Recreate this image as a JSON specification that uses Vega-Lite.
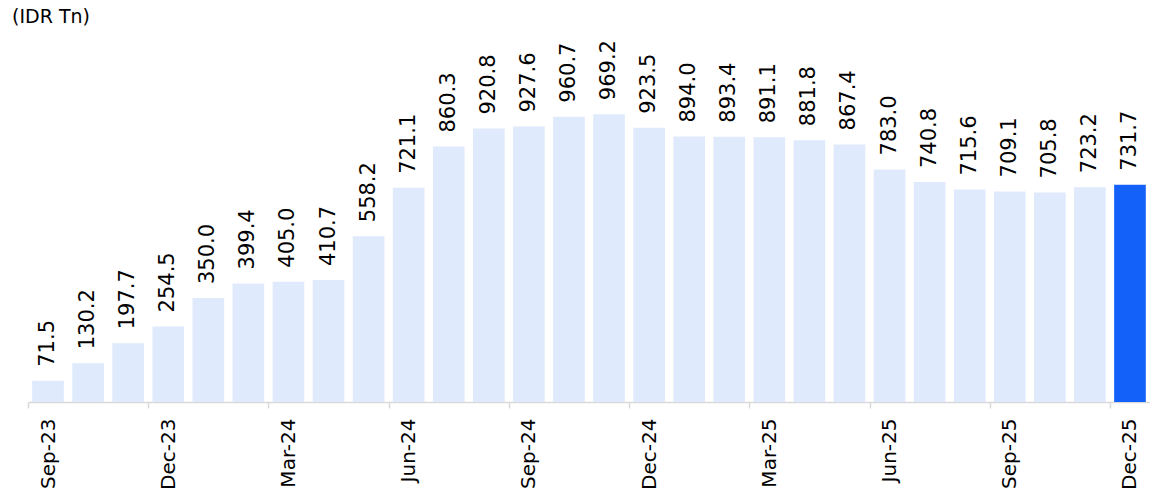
{
  "$schema": "https://vega.github.io/schema/vega-lite/v6.json",
  "width": 1122,
  "height": 362,
  "autosize": {"type": "none"},
  "padding": {"left": 28, "top": 40, "right": 0, "bottom": 88},
  "background": "white",
  "title": {"text": "(IDR Tn)", "anchor": "start", "frame": "group", "dx": -16, "offset": 13, "font": "DejaVu Sans", "fontSize": 19, "fontWeight": "normal", "color": "#000000"},
  "config": {"view": {"stroke": null}, "font": "DejaVu Sans"},
  "data": {"values": [
    {"month": "Sep-23", "value": 71.5},
    {"month": "Oct-23", "value": 130.2},
    {"month": "Nov-23", "value": 197.7},
    {"month": "Dec-23", "value": 254.5},
    {"month": "Jan-24", "value": 350.0},
    {"month": "Feb-24", "value": 399.4},
    {"month": "Mar-24", "value": 405.0},
    {"month": "Apr-24", "value": 410.7},
    {"month": "May-24", "value": 558.2},
    {"month": "Jun-24", "value": 721.1},
    {"month": "Jul-24", "value": 860.3},
    {"month": "Aug-24", "value": 920.8},
    {"month": "Sep-24", "value": 927.6},
    {"month": "Oct-24", "value": 960.7},
    {"month": "Nov-24", "value": 969.2},
    {"month": "Dec-24", "value": 923.5},
    {"month": "Jan-25", "value": 894.0},
    {"month": "Feb-25", "value": 893.4},
    {"month": "Mar-25", "value": 891.1},
    {"month": "Apr-25", "value": 881.8},
    {"month": "May-25", "value": 867.4},
    {"month": "Jun-25", "value": 783.0},
    {"month": "Jul-25", "value": 740.8},
    {"month": "Aug-25", "value": 715.6},
    {"month": "Sep-25", "value": 709.1},
    {"month": "Oct-25", "value": 705.8},
    {"month": "Nov-25", "value": 723.2},
    {"month": "Dec-25", "value": 731.7}
  ]},
  "encoding": {
    "x": {
      "field": "month", "type": "ordinal", "sort": null,
      "scale": {"paddingInner": 0, "paddingOuter": 0},
      "axis": {
        "values": ["Sep-23", "Dec-23", "Mar-24", "Jun-24", "Sep-24", "Dec-24", "Mar-25", "Jun-25", "Sep-25", "Dec-25"],
        "tickBand": "center",
        "tickOffset": -20,
        "labelOffset": 20,
        "title": null,
        "labelAngle": -90,
        "labelAlign": "right",
        "labelBaseline": "middle",
        "labelFontSize": 20,
        "labelFont": "DejaVu Sans",
        "labelColor": "#000000",
        "labelPadding": 10,
        "domainColor": "#d9d9d9",
        "domainWidth": 1.5,
        "tickColor": "#d9d9d9",
        "tickWidth": 1.5,
        "tickSize": 6
      }
    },
    "y": {"field": "value", "type": "quantitative", "scale": {"domain": [0, 1219]}, "axis": null}
  },
  "layer": [
    {
      "mark": {"type": "bar", "width": {"band": 0.79}},
      "encoding": {
        "color": {"condition": {"test": "datum.month === 'Dec-25'", "value": "#1461F9"}, "value": "#DFEAFC"}
      }
    },
    {
      "mark": {"type": "text", "angle": 270, "align": "left", "baseline": "middle", "dx": 14, "fontSize": 21, "font": "DejaVu Sans", "color": "#000000"},
      "encoding": {"text": {"field": "value", "type": "quantitative", "format": ".1f"}}
    }
  ]
}
